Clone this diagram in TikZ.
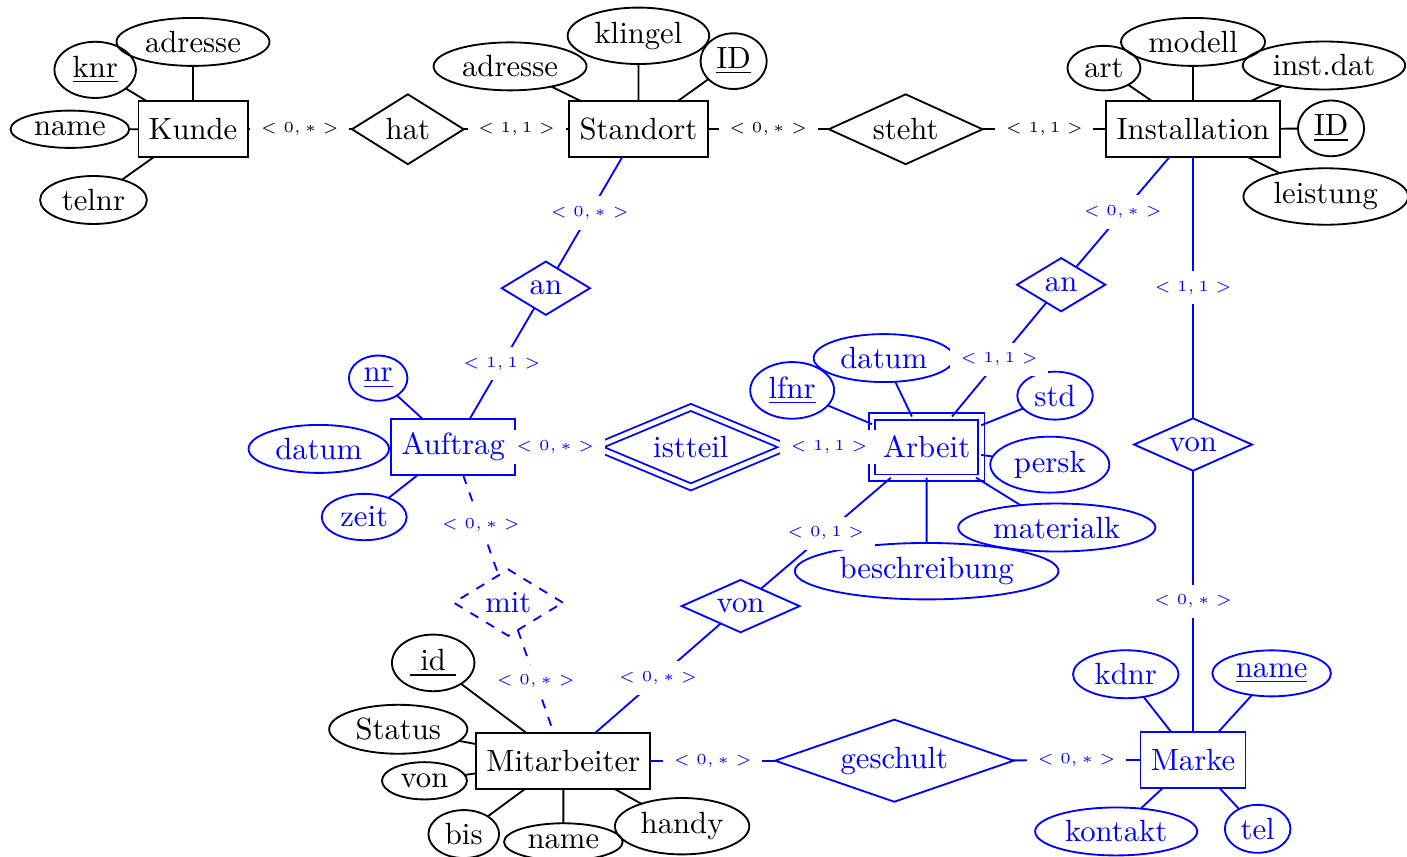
\documentclass[tikz,border=0pt]{standalone}
\usepackage{tikz}
\usetikzlibrary{shapes,positioning}
\newcommand{\kard}[1]{$<#1>$}

\begin{document}
\begin{tikzpicture}[every node/.style={outer sep=0pt,semithick},semithick]
\tikzstyle{entity}=[draw,rectangle,minimum height=0.64cm]
\tikzstyle{attr}=[draw,ellipse,inner sep=2pt]
\tikzstyle{rel}=[draw,diamond,aspect=2.5,inner sep=0.5pt]
\tikzstyle{card}=[fill=white,font=\tiny]
\tikzstyle{weak}=[double,double distance=1.5pt]

\useasboundingbox (0,0) rectangle (16.11,9.81);
%
% Kunde, Standort, Installation
\node (kunde) [entity] at (2.21,8.33) {Kunde};
\node (kadr) [attr] at (2.21,9.33) {adresse};
\node (knr) [attr] at (1.09,9.01) {\underline{knr}};
\node (kname) [attr] at (0.80,8.33) {name};
\node (ktel) [attr] at (1.07,7.52) {telnr};
\node (hat) [rel,minimum width=1.28cm,minimum height=0.80cm] at (4.67,8.33) {hat};
\node (standort) [entity] at (7.31,8.33) {Standort};
\node (sadr) [attr] at (5.84,9.05) {adresse};
\node (sklingel) [attr] at (7.31,9.40) {klingel};
\node (sid) [attr] at (8.40,9.11) {\underline{ID}};
\node (steht) [rel,minimum width=1.76cm,minimum height=0.80cm] at (10.37,8.33) {steht};
\node (inst) [entity] at (13.66,8.33) {Installation};
\node (iart) [attr] at (12.64,9.03) {art};
\node (imodell) [attr] at (13.66,9.33) {modell};
\node (idat) [attr] at (15.16,9.06) {inst.dat};
\node (iid) [attr] at (15.24,8.34) {\underline{ID}};
\node (ileist) [attr] at (15.18,7.56) {leistung};
\draw (kunde) -- (kadr) (kunde) -- (knr) (kunde) -- (kname) (kunde) -- (ktel);
\draw (standort) -- (sadr) (standort) -- (sklingel) (standort) -- (sid);
\draw (inst) -- (iart) (inst) -- (imodell) (inst) -- (idat) (inst) -- (iid)
  (inst) -- (ileist);
\draw (kunde) -- node[card]{\kard{0,\ast}} (hat);
\draw (hat) -- node[card]{\kard{1,1}} (standort);
\draw (standort) -- node[card]{\kard{0,\ast}} (steht);
\draw (steht) -- node[card]{\kard{1,1}} (inst);
%
% Mitarbeiter
\node (mitarb) [entity] at (6.45,1.10) {Mitarbeiter};
\node (mid) [attr] at (4.96,2.22) {\underline{ id }};
\node (mstatus) [attr] at (4.56,1.46) {Status};
\node (mvon) [attr] at (4.86,0.87) {von};
\node (mbis) [attr] at (5.31,0.26) {bis};
\node (mname) [attr] at (6.45,0.17) {name};
\node (mhandy) [attr] at (7.81,0.35) {handy};
\draw (mitarb) -- (mid) (mitarb) -- (mstatus) (mitarb) -- (mvon)
  (mitarb) -- (mbis) (mitarb) -- (mname) (mitarb) -- (mhandy);
%
\begin{scope}[blue]
% Auftrag
\node (anL) [rel,minimum width=1.01cm,minimum height=0.61cm] at (6.25,6.51) {an};
\node (auftrag) [entity] at (5.19,4.69) {Auftrag};
\node (anr) [attr] at (4.33,5.48) {\underline{nr}};
\node (adatum) [attr] at (3.65,4.67) {datum};
\node (azeit) [attr] at (4.17,3.89) {zeit};
\node (istteil) [rel,weak,minimum width=2.18cm,minimum height=0.91cm] at (7.91,4.69) {istteil};
\node (mit) [rel,dashed,minimum width=1.25cm,minimum height=0.76cm] at (5.82,2.91) {mit};
% Arbeit
\node (anR) [rel,minimum width=1.01cm,minimum height=0.61cm] at (12.15,6.55) {an};
\node (arbeit) [entity,weak,minimum width=1.25cm,minimum height=0.70cm] at (10.61,4.69) {Arbeit};
\node (alfnr) [attr] at (9.07,5.34) {\underline{lfnr}};
\node (ardatum) [attr] at (10.12,5.71) {datum};
\node (astd) [attr] at (12.08,5.28) {std};
\node (apersk) [attr] at (12.02,4.49) {persk};
\node (amat) [attr] at (12.10,3.77) {materialk};
\node (abeschr) [attr] at (10.61,3.27) {beschreibung};
\node (vonM) [rel,minimum width=1.35cm,minimum height=0.60cm] at (8.48,2.87) {von};
% Marke
\node (vonR) [rel,minimum width=1.35cm,minimum height=0.60cm] at (13.66,4.72) {von};
\node (marke) [entity] at (13.66,1.11) {Marke};
\node (mkdnr) [attr] at (12.89,2.09) {kdnr};
\node (mkname) [attr] at (14.56,2.10) {\underline{name}};
\node (mkontakt) [attr] at (12.78,0.29) {kontakt};
\node (mtel) [attr] at (14.40,0.32) {tel};
\node (geschult) [rel,minimum width=2.73cm,minimum height=0.94cm] at (10.24,1.10) {geschult};
\draw (auftrag) -- (anr) (auftrag) -- (adatum) (auftrag) -- (azeit);
\draw (arbeit) -- (alfnr) (arbeit) -- (ardatum) (arbeit) -- (astd)
  (arbeit) -- (apersk) (arbeit) -- (amat) (arbeit) -- (abeschr);
\draw (marke) -- (mkdnr) (marke) -- (mkname) (marke) -- (mkontakt) (marke) -- (mtel);
\draw (standort) -- node[card]{\kard{0,\ast}} (anL);
\draw (anL) -- node[card]{\kard{1,1}} (auftrag);
\draw (inst) -- node[card]{\kard{0,\ast}} (anR);
\draw (anR) -- node[card]{\kard{1,1}} (arbeit);
\draw (inst) -- node[card]{\kard{1,1}} (vonR);
\draw (vonR) -- node[card]{\kard{0,\ast}} (marke);
\draw (auftrag) -- node[card]{\kard{0,\ast}} (istteil);
\draw (istteil) -- node[card]{\kard{1,1}} (arbeit);
\draw (arbeit) -- node[card]{\kard{0,1}} (vonM);
\draw (vonM) -- node[card]{\kard{0,\ast}} (mitarb);
\draw [dashed] (auftrag) -- node[card]{\kard{0,\ast}} (mit);
\draw [dashed] (mit) -- node[card]{\kard{0,\ast}} (mitarb);
\draw (mitarb) -- node[card]{\kard{0,\ast}} (geschult);
\draw (geschult) -- node[card]{\kard{0,\ast}} (marke);
\end{scope}
%
\end{tikzpicture}
\end{document}
